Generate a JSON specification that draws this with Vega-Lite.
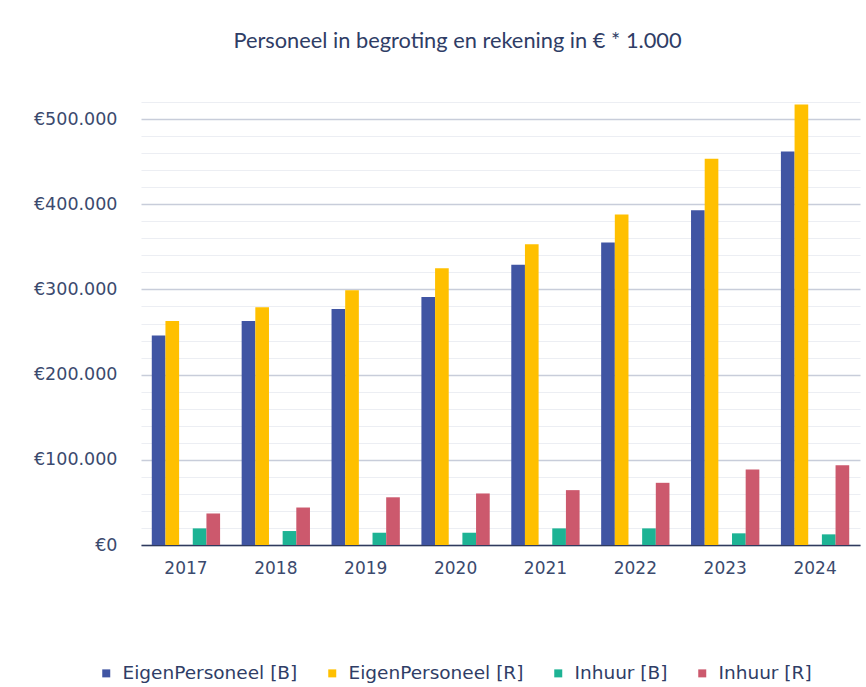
{
  "$schema": "https://vega.github.io/schema/vega-lite/v6.json",
  "autosize": {"type": "none"},
  "padding": {"left": 141, "top": 102, "right": 6, "bottom": 142},
  "width": 719,
  "height": 443,
  "background": "white",
  "title": {
    "text": "Personeel in begroting en rekening in € * 1.000",
    "font": "Lato",
    "fontSize": 21.8,
    "fontWeight": "normal",
    "color": "#2f3d66",
    "anchor": "middle",
    "dx": -43,
    "offset": 49
  },
  "data": {
    "values": [
      {"jaar": "2017", "reeks": "EigenPersoneel [B]", "waarde": 246000},
      {"jaar": "2017", "reeks": "EigenPersoneel [R]", "waarde": 263000},
      {"jaar": "2017", "reeks": "Inhuur [B]", "waarde": 19500},
      {"jaar": "2017", "reeks": "Inhuur [R]", "waarde": 37000},
      {"jaar": "2018", "reeks": "EigenPersoneel [B]", "waarde": 263000},
      {"jaar": "2018", "reeks": "EigenPersoneel [R]", "waarde": 279000},
      {"jaar": "2018", "reeks": "Inhuur [B]", "waarde": 16400},
      {"jaar": "2018", "reeks": "Inhuur [R]", "waarde": 44000},
      {"jaar": "2019", "reeks": "EigenPersoneel [B]", "waarde": 277000},
      {"jaar": "2019", "reeks": "EigenPersoneel [R]", "waarde": 299000},
      {"jaar": "2019", "reeks": "Inhuur [B]", "waarde": 14400},
      {"jaar": "2019", "reeks": "Inhuur [R]", "waarde": 56000},
      {"jaar": "2020", "reeks": "EigenPersoneel [B]", "waarde": 291000},
      {"jaar": "2020", "reeks": "EigenPersoneel [R]", "waarde": 325000},
      {"jaar": "2020", "reeks": "Inhuur [B]", "waarde": 14400},
      {"jaar": "2020", "reeks": "Inhuur [R]", "waarde": 60500},
      {"jaar": "2021", "reeks": "EigenPersoneel [B]", "waarde": 329000},
      {"jaar": "2021", "reeks": "EigenPersoneel [R]", "waarde": 353000},
      {"jaar": "2021", "reeks": "Inhuur [B]", "waarde": 19500},
      {"jaar": "2021", "reeks": "Inhuur [R]", "waarde": 64400},
      {"jaar": "2022", "reeks": "EigenPersoneel [B]", "waarde": 355000},
      {"jaar": "2022", "reeks": "EigenPersoneel [R]", "waarde": 388000},
      {"jaar": "2022", "reeks": "Inhuur [B]", "waarde": 19500},
      {"jaar": "2022", "reeks": "Inhuur [R]", "waarde": 73000},
      {"jaar": "2023", "reeks": "EigenPersoneel [B]", "waarde": 393000},
      {"jaar": "2023", "reeks": "EigenPersoneel [R]", "waarde": 453500},
      {"jaar": "2023", "reeks": "Inhuur [B]", "waarde": 13700},
      {"jaar": "2023", "reeks": "Inhuur [R]", "waarde": 88600},
      {"jaar": "2024", "reeks": "EigenPersoneel [B]", "waarde": 462000},
      {"jaar": "2024", "reeks": "EigenPersoneel [R]", "waarde": 517000},
      {"jaar": "2024", "reeks": "Inhuur [B]", "waarde": 12500},
      {"jaar": "2024", "reeks": "Inhuur [R]", "waarde": 93700}
    ]
  },
  "mark": {"type": "bar"},
  "encoding": {
    "x": {
      "field": "jaar",
      "type": "nominal",
      "scale": {"paddingInner": 0.24, "paddingOuter": 0.12},
      "axis": {
        "title": null,
        "labelAngle": 0,
        "ticks": false,
        "domainColor": "#2f3a5e",
        "domainWidth": 1.5,
        "labelFont": "DejaVu Sans",
        "labelFontSize": 17,
        "labelColor": "#3b4a6e",
        "labelPadding": 15,
        "grid": false
      }
    },
    "xOffset": {
      "field": "reeks",
      "type": "nominal",
      "scale": {
        "domain": ["EigenPersoneel [B]", "EigenPersoneel [R]", "_leeg", "Inhuur [B]", "Inhuur [R]"],
        "paddingInner": 0,
        "paddingOuter": 0
      }
    },
    "y": {
      "field": "waarde",
      "type": "quantitative",
      "scale": {"domain": [0, 520000], "nice": false},
      "axis": {
        "title": null,
        "values": [0, 20000, 40000, 60000, 80000, 100000, 120000, 140000, 160000, 180000, 200000, 220000, 240000, 260000, 280000, 300000, 320000, 340000, 360000, 380000, 400000, 420000, 440000, 460000, 480000, 500000, 520000],
        "labelExpr": "datum.value % 100000 === 0 ? '€' + replace(format(datum.value, ','), ',', '.') : ''",
        "ticks": false,
        "domain": false,
        "labelFont": "DejaVu Sans",
        "labelFontSize": 17.5,
        "labelColor": "#3b4a6e",
        "labelPadding": 24,
        "gridColor": {"condition": {"test": "datum.value % 100000 === 0", "value": "#c8cdda"}, "value": "#eceef3"},
        "gridWidth": {"condition": {"test": "datum.value % 100000 === 0", "value": 1.5}, "value": 1.2}
      }
    },
    "color": {
      "field": "reeks",
      "type": "nominal",
      "scale": {
        "domain": ["EigenPersoneel [B]", "EigenPersoneel [R]", "Inhuur [B]", "Inhuur [R]"],
        "range": ["#4055a3", "#ffc000", "#1db394", "#cc596d"]
      },
      "legend": {
        "title": null,
        "orient": "none",
        "direction": "horizontal",
        "legendX": -44,
        "legendY": 562,
        "symbolType": "square",
        "symbolSize": 64,
        "symbolStrokeWidth": 0,
        "labelFont": "DejaVu Sans",
        "labelFontSize": 18.5,
        "labelColor": "#2f3d66",
        "labelOffset": 7,
        "columnPadding": 25,
        "labelLimit": 300
      }
    }
  },
  "config": {
    "view": {"stroke": null}
  }
}
